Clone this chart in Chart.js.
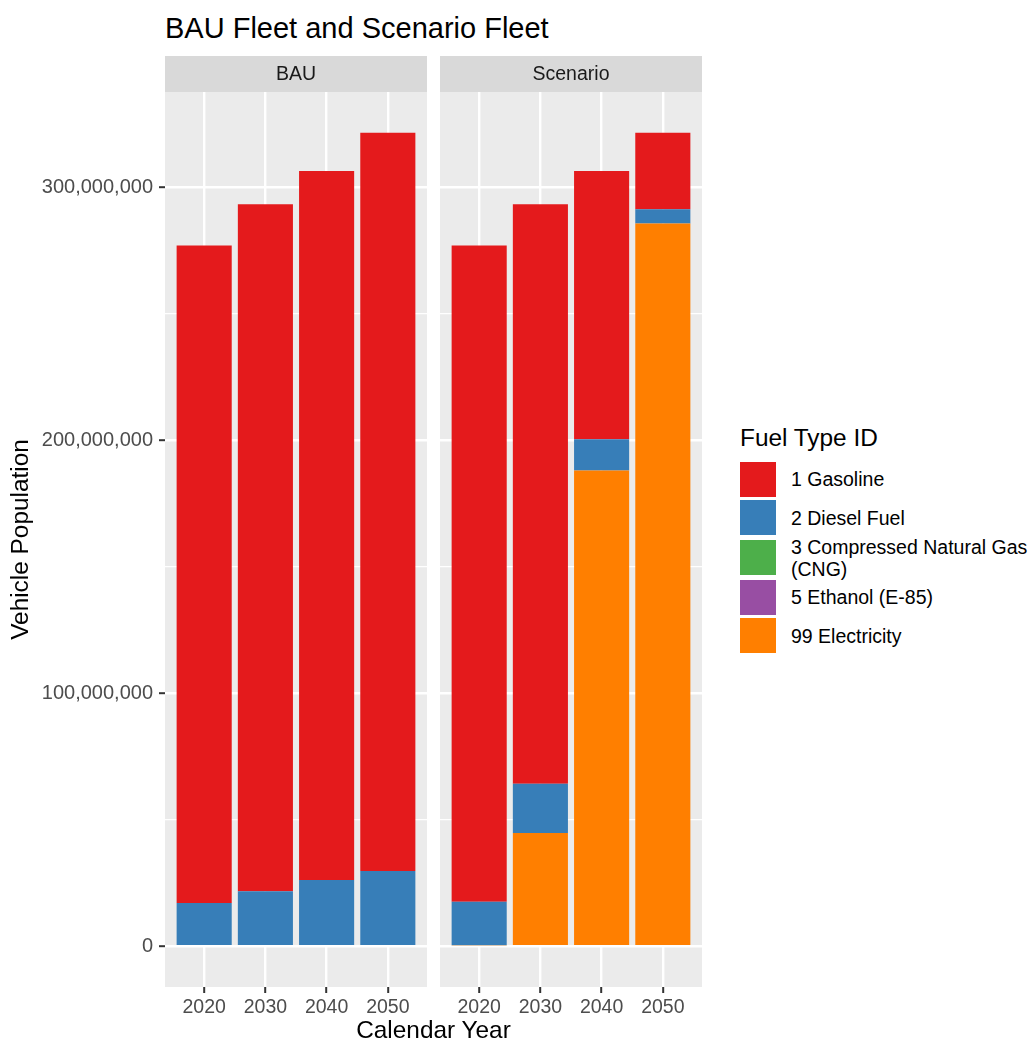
<!DOCTYPE html>
<html>
<head>
<meta charset="utf-8">
<title>BAU Fleet and Scenario Fleet</title>
<script src="https://cdn.jsdelivr.net/npm/chart.js@4.4.1/dist/chart.umd.min.js"></script>
<style>
  html, body { margin: 0; padding: 0; background: #ffffff; }
  body { width: 1033px; height: 1044px; position: relative; overflow: hidden;
         font-family: "Liberation Sans", Arial, Helvetica, sans-serif; }
  canvas { position: absolute; top: 0; }
  #plotTitle { position: absolute; left: 165px; top: 14px; font-size: 29px; line-height: 29px; color: #000; white-space: nowrap; }
  #xTitle { position: absolute; left: 165px; width: 537px; top: 1018px; font-size: 24.4px; line-height: 24.4px; text-align: center; color: #000; }
  #legend { position: absolute; left: 740px; top: 424px; }
  #legend .ttl { font-size: 24.4px; line-height: 28px; color: #000; margin-bottom: 8px; white-space: nowrap; }
  #legend .row { display: flex; align-items: center; }
  #legend .key { width: 36px; height: 35px; flex: none; }
  #legend .lab { margin-left: 15px; font-size: 19.5px; line-height: 22px; color: #000; white-space: pre-line; }
</style>
</head>
<body>
<div id="plotTitle">BAU Fleet and Scenario Fleet</div>
<canvas id="panelBAU" width="432" height="1044" style="left:0px"></canvas>
<canvas id="panelScenario" width="280" height="1044" style="left:432px"></canvas>
<div id="xTitle">Calendar Year</div>
<div id="legend"></div>

<script>
// Calendar years on the x axis and the two facet panels
const years = ['2020', '2030', '2040', '2050'];
const panels = ['BAU', 'Scenario'];

// Fuel types (legend order) and their fill colours
const fuelTypes = ['1 Gasoline', '2 Diesel Fuel', '3 Compressed Natural Gas\n(CNG)', '5 Ethanol (E-85)', '99 Electricity'];
const fuelColors = ['#E41A1C', '#377EB8', '#4DAF4A', '#984EA3', '#FF7F00'];

// Vehicle population, BAU fleet
const bauGasoline    = [259.9e6, 271.5e6, 280.3e6, 291.8e6];
const bauDiesel      = [17.1e6, 21.8e6, 26.2e6, 29.8e6];
const bauCNG         = [0, 0, 0, 0];
const bauEthanol     = [0, 0, 0, 0];
const bauElectricity = [0, 0, 0, 0];

// Vehicle population, Scenario fleet
const scenGasoline    = [259.4e6, 229.0e6, 106.1e6, 30.3e6];
const scenDiesel      = [17.2e6, 19.5e6, 12.3e6, 5.6e6];
const scenCNG         = [0, 0, 0, 0];
const scenEthanol     = [0, 0, 0, 0];
const scenElectricity = [0.4e6, 44.8e6, 188.1e6, 285.7e6];

// Y axis breaks: labelled majors and unlabelled minors
const yMajorTicks = [0, 100e6, 200e6, 300e6];
const yMinorTicks = [50e6, 150e6, 250e6];

const panelSeries = {
  BAU: [bauGasoline, bauDiesel, bauCNG, bauEthanol, bauElectricity],
  Scenario: [scenGasoline, scenDiesel, scenCNG, scenEthanol, scenElectricity]
};

// Shared y range: stacked totals plus 5% padding on both ends
const allTotals = panels.flatMap(p => years.map((_, i) => panelSeries[p].reduce((s, arr) => s + arr[i], 0)));
const yTop = Math.max(...allTotals);
const yMin = -0.05 * yTop;
const yMax = 1.05 * yTop;

const FONT = '"Liberation Sans", Arial, Helvetica, sans-serif';

// Grey panel background plus facet strip above it
const panelDecor = {
  id: 'panelDecor',
  beforeDraw(chart, args, opts) {
    const { ctx, chartArea: a } = chart;
    ctx.save();
    ctx.fillStyle = '#EBEBEB';
    ctx.fillRect(a.left, a.top, a.right - a.left, a.bottom - a.top);
    const stripH = 36;
    ctx.fillStyle = '#D9D9D9';
    ctx.fillRect(a.left, a.top - stripH, a.right - a.left, stripH);
    ctx.fillStyle = '#1A1A1A';
    ctx.font = '19.5px ' + FONT;
    ctx.textAlign = 'center';
    ctx.textBaseline = 'middle';
    ctx.fillText(opts.label, (a.left + a.right) / 2, a.top - stripH / 2 + 1);
    ctx.restore();
  }
};

function makePanel(canvasId, panelName, showY) {
  const series = panelSeries[panelName];
  // ggplot stacks the first level on top, so the last fuel type goes first
  const datasets = fuelTypes.map((name, k) => ({
    label: name,
    data: years.map((_, i) => ({ x: i + 1, y: series[k][i] })),
    backgroundColor: fuelColors[k],
    borderWidth: 0,
    barPercentage: 0.9,
    categoryPercentage: 1.0
  })).reverse();

  return new Chart(document.getElementById(canvasId), {
    type: 'bar',
    data: { datasets },
    plugins: [panelDecor],
    options: {
      responsive: false,
      animation: false,
      devicePixelRatio: 1,
      events: [],
      layout: { padding: { top: 92, right: showY ? 5 : 10, bottom: 0, left: 0 } },
      plugins: {
        legend: { display: false },
        tooltip: { enabled: false },
        title: { display: false },
        panelDecor: { label: panelName }
      },
      scales: {
        x: {
          type: 'linear',
          stacked: true,
          offset: false,
          min: 0.36,
          max: 4.64,
          afterBuildTicks: s => { s.ticks = years.map((_, i) => ({ value: i + 1 })); },
          afterFit: s => { s.height = 57; },
          ticks: {
            callback: v => years[v - 1],
            color: '#4D4D4D',
            font: { family: FONT, size: 19.5 },
            padding: 3,
            maxRotation: 0,
            autoSkip: false
          },
          grid: {
            offset: false,
            color: '#FFFFFF',
            lineWidth: 2.4,
            drawTicks: true,
            tickLength: 6,
            tickColor: '#333333',
            tickWidth: 2
          },
          border: { display: false }
        },
        y: {
          type: 'linear',
          stacked: true,
          min: yMin,
          max: yMax,
          afterBuildTicks: s => {
            s.ticks = [...yMajorTicks, ...yMinorTicks].sort((a, b) => a - b).map(v => ({ value: v }));
          },
          afterFit: s => { s.width = showY ? 165 : 8; },
          ticks: {
            display: showY,
            callback: v => yMajorTicks.includes(v) ? v.toLocaleString('en-US') : '',
            color: '#4D4D4D',
            font: { family: FONT, size: 20 },
            padding: 6,
            autoSkip: false
          },
          grid: {
            color: '#FFFFFF',
            lineWidth: ctx => yMajorTicks.includes(ctx.tick && ctx.tick.value) ? 2.4 : 1.2,
            drawTicks: showY,
            tickLength: 6,
            tickColor: ctx => yMajorTicks.includes(ctx.tick && ctx.tick.value) ? '#333333' : 'rgba(0,0,0,0)',
            tickWidth: 2
          },
          border: { display: false },
          title: {
            display: showY,
            text: 'Vehicle Population',
            color: '#000000',
            font: { family: FONT, size: 24.4 },
            padding: { top: 7, bottom: 0 }
          }
        }
      }
    }
  });
}

makePanel('panelBAU', panels[0], true);
makePanel('panelScenario', panels[1], false);

// Legend: fuel type swatches and names
const legend = document.getElementById('legend');
const ttl = document.createElement('div');
ttl.className = 'ttl';
ttl.textContent = 'Fuel Type ID';
legend.appendChild(ttl);
fuelTypes.forEach((name, k) => {
  const row = document.createElement('div');
  row.className = 'row';
  row.style.height = name.includes('\n') ? '41px' : '38.5px';
  const key = document.createElement('div');
  key.className = 'key';
  key.style.background = fuelColors[k];
  const lab = document.createElement('div');
  lab.className = 'lab';
  lab.textContent = name;
  row.appendChild(key);
  row.appendChild(lab);
  legend.appendChild(row);
});
</script>
</body>
</html>
